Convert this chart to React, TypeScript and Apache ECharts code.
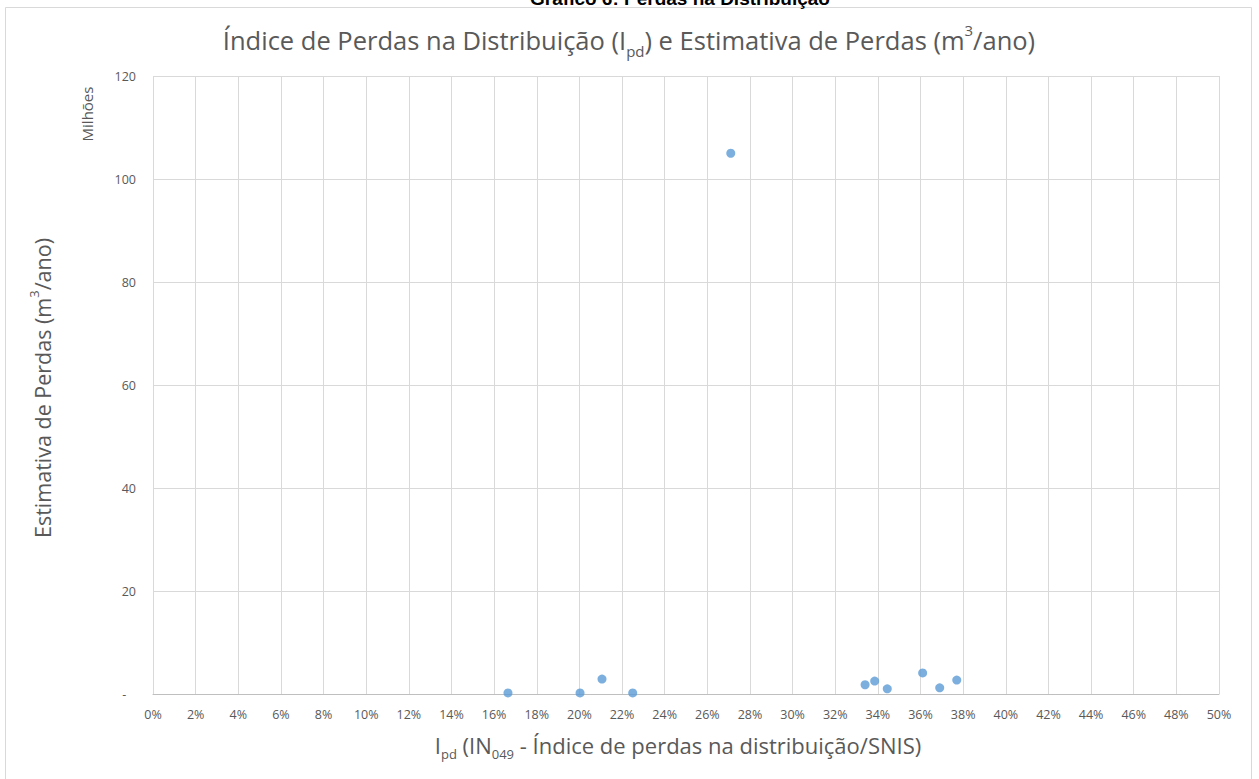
import React, { useEffect, useRef } from "react";
import * as echarts from "echarts";

const xTickValues = [0, 0.02, 0.04, 0.06, 0.08, 0.1, 0.12, 0.14, 0.16, 0.18, 0.2, 0.22, 0.24, 0.26, 0.28, 0.3, 0.32, 0.34, 0.36, 0.38, 0.4, 0.42, 0.44, 0.46, 0.48, 0.5];
const yTickValues = [0, 20, 40, 60, 80, 100, 120];
// Índice de perdas (fração) e estimativa de perdas (milhões m³/ano)
const ipd = [0.1665, 0.2003, 0.2106, 0.225, 0.271, 0.334, 0.3385, 0.3444, 0.361, 0.369, 0.377];
const perdas = [0.2, 0.2, 2.9, 0.2, 105.0, 1.8, 2.5, 1.0, 4.1, 1.2, 2.7];

export default function App() {
  const ref = useRef<HTMLDivElement>(null);
  useEffect(() => {
    document.body.style.margin = "0";
    const chart = echarts.init(ref.current!, null, { renderer: "svg" });
    const gray = "#595959";
    const font = "Open Sans";
    chart.setOption({
      animation: false,
      backgroundColor: "#ffffff",
      textStyle: { fontFamily: font },
      graphic: [
        {
          type: "rect",
          shape: { x: 5.5, y: 7.5, width: 1246, height: 790 },
          style: { fill: "none", stroke: "#d9d9d9", lineWidth: 1 },
          silent: true,
        },
        {
          type: "text",
          x: 680,
          y: -11,
          style: {
            text: "Gráfico 6: Perdas na Distribuição",
            font: "bold 19px 'Liberation Sans', Arial",
            fill: "#000",
            align: "center",
            verticalAlign: "top",
          },
        },
        {
          type: "text",
          x: 629,
          y: 40,
          style: {
            text: "{a|Índice de Perdas na Distribuição (I}{sub|pd}{a|) e Estimativa de Perdas (m}{sup|3}{a|/ano)}",
            align: "center",
            verticalAlign: "middle",
            rich: {
              a: { fontFamily: font, fontSize: 25.5, fill: gray, lineHeight: 36, verticalAlign: "middle" },
              sub: { fontFamily: font, fontSize: 15, fill: gray, lineHeight: 15, verticalAlign: "bottom" },
              sup: { fontFamily: font, fontSize: 15, fill: gray, lineHeight: 15, verticalAlign: "top" },
            },
          },
        },
        {
          type: "text",
          x: 87,
          y: 114,
          rotation: Math.PI / 2,
          style: {
            text: "Milhões",
            fontFamily: font,
            fontSize: 15,
            fill: gray,
            align: "center",
            verticalAlign: "middle",
          },
        },
        {
          type: "text",
          x: 42,
          y: 388,
          rotation: Math.PI / 2,
          style: {
            text: "{a|Estimativa de Perdas (m}{sup|3}{a|/ano)}",
            align: "center",
            verticalAlign: "middle",
            rich: {
              a: { fontFamily: font, fontSize: 21.5, fill: gray, lineHeight: 30, verticalAlign: "middle" },
              sup: { fontFamily: font, fontSize: 13, fill: gray, lineHeight: 13, verticalAlign: "top" },
            },
          },
        },
        {
          type: "text",
          x: 678,
          y: 745,
          style: {
            text: "{a|I}{sub|pd}{a| (IN}{sub|049}{a| - Índice de perdas na distribuição/SNIS)}",
            align: "center",
            verticalAlign: "middle",
            rich: {
              a: { fontFamily: font, fontSize: 22, fill: gray, lineHeight: 30, verticalAlign: "middle" },
              sub: { fontFamily: font, fontSize: 13, fill: gray, lineHeight: 13, verticalAlign: "bottom" },
            },
          },
        },
      ],
      grid: { left: 153, right: 40, top: 76, bottom: 85, containLabel: false },
      xAxis: {
        type: "value",
        min: xTickValues[0],
        max: xTickValues[xTickValues.length - 1],
        interval: 0.02,
        axisLine: { show: true, lineStyle: { color: "#bfbfbf", width: 1 } },
        axisTick: { show: false },
        splitLine: { show: true, lineStyle: { color: "#d9d9d9", width: 1 } },
        axisLabel: {
          color: gray,
          fontSize: 12.5,
          fontFamily: font,
          margin: 14,
          formatter: (v: number) => `${Math.round(v * 100)}%`,
        },
      },
      yAxis: {
        type: "value",
        min: yTickValues[0],
        max: yTickValues[yTickValues.length - 1],
        interval: 20,
        axisLine: { show: false },
        axisTick: { show: false },
        splitLine: { show: true, lineStyle: { color: "#d9d9d9", width: 1 } },
        axisLabel: {
          color: gray,
          fontSize: 12.5,
          fontFamily: font,
          margin: 17,
          formatter: (v: number) => (v === 0 ? "-   " : String(v)),
        },
      },
      series: [
        {
          type: "scatter",
          data: ipd.map((x, i) => [x, perdas[i]]),
          symbol: "circle",
          symbolSize: 9,
          itemStyle: { color: "#5b9bd5" },
        },
      ],
    });
    return () => chart.dispose();
  }, []);
  return <div ref={ref} style={{ width: 1259, height: 779 }} />;
}
